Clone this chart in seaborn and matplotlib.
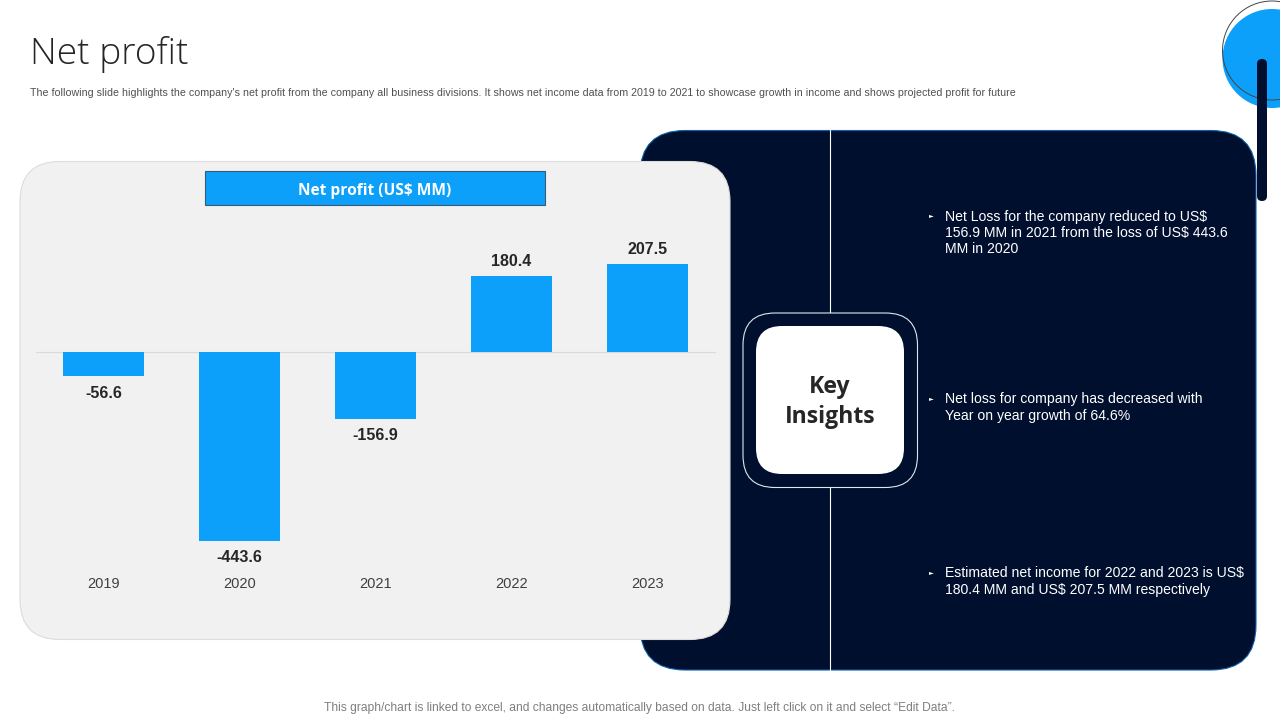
import matplotlib
matplotlib.use('Agg')
import matplotlib.pyplot as plt
from matplotlib.patches import Circle, FancyBboxPatch, Rectangle
import pandas as pd
import seaborn as sns

years = ['2019', '2020', '2021', '2022', '2023']
net_profit = [-56.6, -443.6, -156.9, 180.4, 207.5]

title = 'Net profit'
subtitle = ("The following slide highlights the company's net profit from the company all business "
            "divisions. It shows net income data from 2019 to 2021 to showcase growth in income and "
            "shows projected profit for future")
chart_header = 'Net profit (US$ MM)'
center_label = 'Key\nInsights'
insight_1 = 'Net Loss for the company reduced to US$\n156.9 MM in 2021 from the loss of US$ 443.6\nMM in 2020'
insight_2 = 'Net loss for company has decreased with\nYear on year growth of 64.6%'
insight_3 = 'Estimated net income for 2022 and 2023 is US$\n180.4 MM and US$ 207.5 MM respectively'
footer = ('This graph/chart is linked to excel, and changes automatically based on data. '
          'Just left click on it and select \u201cEdit Data\u201d.')

BLUE = '#0ca0fb'
NAVY = '#000f2e'
W, H = 1280, 720

sns.set_theme(style='white')
plt.rcParams['font.family'] = ['Liberation Sans', 'DejaVu Sans']

fig = plt.figure(figsize=(12.8, 7.2), dpi=100, facecolor='white')

# background layer in pixel coords
bg = fig.add_axes([0, 0, 1, 1], zorder=0)
bg.set_xlim(0, W)
bg.set_ylim(H, 0)
bg.axis('off')


def rounded(x0, y0, x1, y1, r, **kw):
    bg.add_patch(FancyBboxPatch((x0, y0), x1 - x0, y1 - y0,
                                boxstyle=f'round,pad=0,rounding_size={r}', **kw))


bg.add_patch(Circle((1272, 58.5), 49.5, fc=BLUE, ec='none', zorder=1))
bg.add_patch(Circle((1272, 50.5), 49.5, fc='none', ec='#444444', lw=0.7, zorder=2))
rounded(640, 130.5, 1256, 670, 45, fc=NAVY, ec='#0f5fa8', lw=0.8, zorder=2)
rounded(1257, 59, 1267, 201, 5, fc=NAVY, ec='none', zorder=3)
rounded(20, 161.5, 730, 639.5, 40, fc='#f1f1f1', ec='#dcdcdc', lw=0.8, zorder=3)
bg.add_patch(Rectangle((205, 171), 340, 33.5, fc=BLUE, ec='#3b5a78', lw=0.8, zorder=4))
bg.text(374.5, 191, chart_header, color='white', fontsize=11.2, fontweight='bold',
        family=['Open Sans', 'DejaVu Sans'], ha='center', va='center', zorder=5)

bg.plot([830, 830], [130, 670], color='white', lw=0.8, zorder=4)
rounded(743, 313, 917.5, 487.5, 32, fc=NAVY, ec='#dfe6ee', lw=0.8, zorder=5)
rounded(756, 326, 904, 474, 26, fc='white', ec='none', zorder=6)
bg.text(830, 402, center_label, color='#262626', fontsize=16.6, fontweight='bold',
        family=['Open Sans', 'DejaVu Sans'], ha='center', va='center', linespacing=1.3, zorder=7)

for txt, top, bullet_y in [(insight_1, 209.5, 216), (insight_2, 392.5, 399), (insight_3, 566.5, 573)]:
    bg.text(931, bullet_y, '\u25ba', color='white', fontsize=4.5, ha='center', va='center', zorder=5,
            family=['DejaVu Sans'])
    bg.text(945, top, txt, color='white', fontsize=10.1, ha='left', va='top', linespacing=1.2, zorder=5)

bg.text(30, 54.5, title, color='#262626', fontsize=26.7, fontweight='light',
        family=['Open Sans', 'DejaVu Sans'], ha='left', va='center')
bg.text(30, 92.5, subtitle, color='#505050', fontsize=7.68, ha='left', va='center')
bg.text(640, 708.5, footer, color='#7f7f7f', fontsize=8.65, ha='center', va='center')

# chart layer, pixel box 680 wide, zero line at y=352
zero_y = 352.3
px_left, px_right, px_top, px_bottom = 35.5, 715.5, 212, 570
ax = fig.add_axes([px_left / W, 1 - px_bottom / H, (px_right - px_left) / W, (px_bottom - px_top) / H],
                  zorder=1)
ax.patch.set_alpha(0)

df = pd.DataFrame({'year': years, 'net_profit': net_profit})
sns.barplot(data=df, x='year', y='net_profit', color=BLUE, saturation=1, width=0.6, linewidth=0, ax=ax)

scale = 188.5 / 443.6
ax.set_ylim(-(px_bottom - zero_y) / scale, (zero_y - px_top) / scale)
ax.set_xlim(-0.5, 4.5)
ax.axhline(0, color='#d9d9d9', lw=0.8, zorder=0)
labels = ax.bar_label(ax.containers[0], fmt='%.1f', padding=5, fontsize=11.5, fontweight='bold', color='#262626')
for lab, val in zip(labels, net_profit):
    lab.xyann = (0, 4.8 if val > 0 else -6.8)

ax.set_xlabel('')
ax.set_ylabel('')
ax.set_yticks([])
ax.tick_params(axis='x', length=0, pad=5, labelsize=10.5, labelcolor='#404040')
sns.despine(ax=ax, left=True, bottom=True)

fig.savefig('out.png', dpi=100)
